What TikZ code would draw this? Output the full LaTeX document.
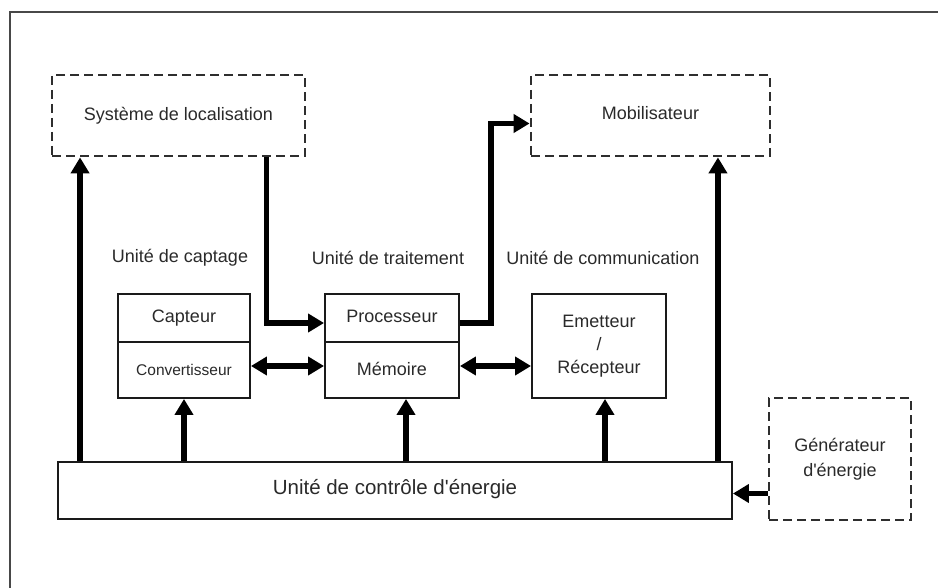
\documentclass[tikz,border=0pt]{standalone}
\usepackage{fontspec}
\setmainfont{Liberation Sans}
\usetikzlibrary{arrows.meta,calc}
\definecolor{ink}{HTML}{1A1A1A}
\definecolor{txt}{HTML}{2A2A2A}
\definecolor{dashink}{HTML}{2E2E2E}
\newcommand{\apos}{\textquotesingle}
\tikzset{
  plainbox/.style={draw=ink, line width=1.9pt, rectangle, inner sep=0pt, text=txt, font=\fontsize{18}{20}\selectfont},
  extbox/.style={draw=dashink, line width=2.8pt, dash pattern=on 9pt off 5pt, rectangle, inner sep=0pt, text=txt, font=\fontsize{18}{20}\selectfont},
  lbl/.style={text=txt, font=\fontsize{18}{20}\selectfont, inner sep=0pt},
  arr/.style={line width=5.2pt, draw=black, -{Triangle[length=16pt,width=18pt]}},
  darr/.style={line width=5.2pt, draw=black, {Triangle[length=16pt,width=18pt]}-{Triangle[length=16pt,width=18pt]}},
}
\begin{document}
\begin{tikzpicture}[x=1pt,y=-1pt]
\useasboundingbox (0,0) rectangle (938,588);
\fill[white] (0,0) rectangle (938,588);
% outer frame (only top and left edges fall inside the page)
\draw[ink!80, line width=1.2pt] (10,588) -- (10,12) -- (938,12);

% external blocks
\node[extbox, minimum width=253pt, minimum height=81pt] (loc) at (178.5,115.5) {\raisebox{4pt}{Système de localisation}};
\node[extbox, minimum width=239pt, minimum height=81pt] (mob) at (650.5,115.5) {\raisebox{5pt}{Mobilisateur}};
\node[extbox, minimum width=142pt, minimum height=122pt, align=center, font=\fontsize{18}{25}\selectfont] (gen) at (840,459) {\raisebox{4pt}{Générateur}\\\raisebox{4pt}{d\apos énergie}};

% unit titles
\node[lbl] (tcap) at (180,258) {Unité de captage};
\node[lbl] (ttrt) at (388,258) {Unité de traitement};
\node[lbl] (tcom) at (603,258) {Unité de communication};

% sensing unit
\node[plainbox, minimum width=132pt, minimum height=48pt] (capt) at (184,318) {Capteur};
\node[plainbox, minimum width=132pt, minimum height=56pt, font=\fontsize{15.5}{17}\selectfont] (conv) at (184,370) {Convertisseur};
% processing unit
\node[plainbox, minimum width=134pt, minimum height=48pt] (proc) at (392,318) {\raisebox{4pt}{Processeur}};
\node[plainbox, minimum width=134pt, minimum height=56pt] (mem) at (392,370) {\raisebox{3pt}{Mémoire}};
% communication unit
\node[plainbox, minimum width=134pt, minimum height=104pt, align=center, font=\fontsize{18}{23}\selectfont] (emet) at (599,346) {Emetteur\\/\\Récepteur};
% energy control unit
\node[plainbox, minimum width=674pt, minimum height=57pt, font=\fontsize{20.5}{22}\selectfont] (ener) at (395,490.5) {\raisebox{7pt}{Unité de contrôle d\apos énergie}};

% connectors
\draw[arr] ([xshift=23pt]ener.north west) -- ([xshift=23pt]ener.north west |- loc.south);
\draw[arr] ([xshift=-40pt]loc.south east) |- ([yshift=-5pt]proc.west);
\draw[arr] ([yshift=-5pt]proc.east) -- ++(31,0) |- ([yshift=-8pt]mob.west);
\draw[arr] ([xshift=-15pt]ener.north east) -- ([xshift=-15pt]ener.north east |- mob.south);
\draw[arr] (ener.north -| conv.south) -- (conv.south);
\draw[arr] ([xshift=14pt]ener.north -| mem.south) -- ([xshift=14pt]mem.south);
\draw[arr] ([xshift=6pt]ener.north -| emet.south) -- ([xshift=6pt]emet.south);
\draw[darr] ([yshift=4pt]conv.east) -- ([yshift=4pt]conv.east -| mem.west);
\draw[darr] ([yshift=4pt]mem.east) -- ([yshift=4pt]mem.east -| emet.west);
\draw[arr] ([yshift=-3pt]gen.west |- ener.east) -- ([yshift=-3pt]ener.east);
\end{tikzpicture}
\end{document}
